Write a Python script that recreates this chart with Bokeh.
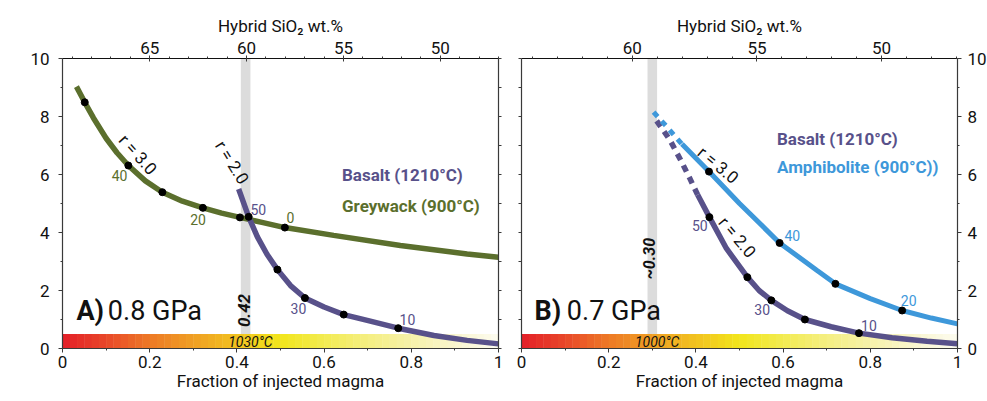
import numpy as np
from bokeh.plotting import figure
from bokeh.layouts import row
from bokeh.models import Range1d, LinearAxis, FixedTicker, NumeralTickFormatter, Label
from bokeh.embed import file_html
from bokeh.resources import INLINE

FONT = "Roboto"
PURPLE = "#58518a"
GREEN = "#5b6f2d"
BLUE = "#3e98da"
AXC = "#3a3a3a"

# ---------------- axes ----------------
frac_ticks = [0, 0.2, 0.4, 0.6, 0.8, 1.0]
frac_minor = [0, 0.1, 0.2, 0.3, 0.4, 0.5, 0.6, 0.7, 0.8, 0.9, 1.0]
visc_ticks = [0, 2, 4, 6, 8, 10]
visc_minor = [0, 1, 2, 3, 4, 5, 6, 7, 8, 9, 10]
sio2_ticks_a = [65, 60, 55, 50]
sio2_ticks_b = [60, 55, 50]
sio2_minor = list(range(46, 71))
sio2_range_a = (69.5, 47.0)   # SiO2 at fraction 0 and 1
sio2_range_b = (64.45, 46.95)

# ---------------- panel A (0.8 GPa) ----------------
grey_a_f = [0.032, 0.051, 0.071, 0.10, 0.125, 0.151, 0.19, 0.229, 0.275, 0.322, 0.365, 0.407, 0.46, 0.51, 0.622, 0.775, 0.928, 1.0]
grey_a_v = [9.03, 8.49, 7.95, 7.25, 6.75, 6.31, 5.78, 5.39, 5.08, 4.85, 4.67, 4.52, 4.34, 4.17, 3.90, 3.55, 3.26, 3.15]
grey_a_dot_f = [0.051, 0.151, 0.229, 0.322, 0.407, 0.51]
grey_a_dot_v = [8.49, 6.31, 5.39, 4.85, 4.52, 4.17]

bas_a_f = [0.404, 0.427, 0.447, 0.469, 0.493, 0.523, 0.556, 0.60, 0.645, 0.699, 0.77, 0.852, 0.928, 1.0]
bas_a_v = [5.50, 4.54, 3.85, 3.25, 2.72, 2.17, 1.74, 1.43, 1.17, 0.97, 0.70, 0.45, 0.28, 0.16]
bas_a_dot_f = [0.427, 0.493, 0.556, 0.645, 0.77]
bas_a_dot_v = [4.54, 2.72, 1.74, 1.17, 0.70]

band_a = 0.42
temp_a = "1030°C"

# ---------------- panel B (0.7 GPa) ----------------
bas_b_dash_f = [0.31, 0.34, 0.365, 0.385, 0.404]
bas_b_dash_v = [7.85, 7.20, 6.50, 5.90, 5.30]
bas_b_f = [0.404, 0.431, 0.47, 0.518, 0.545, 0.573, 0.61, 0.65, 0.71, 0.774, 0.85, 0.93, 1.0]
bas_b_v = [5.30, 4.53, 3.45, 2.46, 2.00, 1.66, 1.30, 1.00, 0.75, 0.53, 0.37, 0.25, 0.16]
bas_b_dot_f = [0.431, 0.518, 0.573, 0.65, 0.774]
bas_b_dot_v = [4.53, 2.46, 1.66, 1.00, 0.53]

amph_b_dash_f = [0.303, 0.33, 0.368]
amph_b_dash_v = [8.15, 7.70, 7.05]
amph_b_f = [0.368, 0.43, 0.50, 0.592, 0.678, 0.72, 0.80, 0.873, 0.94, 1.0]
amph_b_v = [7.05, 6.10, 5.00, 3.64, 2.69, 2.23, 1.72, 1.31, 1.05, 0.85]
amph_b_dot_f = [0.43, 0.592, 0.72, 0.873]
amph_b_dot_v = [6.10, 3.64, 2.23, 1.31]

band_b = 0.30
temp_b = "1000°C"

# temperature gradient bar colour stops
grad_pos = [0.0, 0.1, 0.2, 0.3, 0.4, 0.5, 0.6, 0.7, 0.8, 0.9, 1.0]
grad_col = ["#e41f28", "#e9482a", "#ee7a26", "#f0a024", "#f2c320", "#f2e61c",
            "#f3ec52", "#f5ef82", "#f7f2aa", "#faf6cf", "#fdfcf0"]


def hex2rgb(h):
    return np.array([int(h[i:i + 2], 16) for i in (1, 3, 5)], dtype=float)


def gradient_colors(n):
    rgbs = np.array([hex2rgb(c) for c in grad_col])
    centers = (np.arange(n) + 0.5) / n
    out = []
    for c in centers:
        r = np.interp(c, grad_pos, rgbs[:, 0])
        g = np.interp(c, grad_pos, rgbs[:, 1])
        b = np.interp(c, grad_pos, rgbs[:, 2])
        out.append("#%02x%02x%02x" % (int(r), int(g), int(b)))
    return out


def style_axis(ax, minor_in=0):
    ax.axis_line_color = AXC
    ax.axis_line_width = 1.2
    ax.major_tick_line_color = AXC
    ax.minor_tick_line_color = AXC
    ax.major_tick_out = 4
    ax.major_tick_in = 0
    ax.minor_tick_out = 2
    ax.minor_tick_in = minor_in
    ax.major_label_text_font = FONT
    ax.major_label_text_font_size = "17px"
    ax.major_label_text_color = "#111111"
    ax.major_label_standoff = 3
    ax.axis_label_text_font = FONT
    ax.axis_label_text_font_size = "17px"
    ax.axis_label_text_font_style = "normal"
    ax.axis_label_text_color = "#111111"
    ax.axis_label_standoff = 2


def lab(p, x, y, text, size="14px", color="#111111", style="normal", angle=0, align="center", baseline="middle"):
    p.add_layout(Label(x=x, y=y, text=text, text_font=FONT, text_font_size=size,
                       text_color=color, text_font_style=style, angle=angle, angle_units="deg",
                       text_align=align, text_baseline=baseline))


def make_fig(left_border, right_border, sio2_range, sio2_ticks, yaxis_side):
    p = figure(frame_width=436, frame_height=290, x_range=Range1d(0, 1), y_range=Range1d(0, 10),
               output_backend="svg", toolbar_location=None,
               x_axis_location="below", y_axis_location="left",
               min_border_left=left_border, min_border_right=right_border,
               min_border_top=58, min_border_bottom=40)
    p.outline_line_color = None
    p.xgrid.visible = False
    p.ygrid.visible = False
    p.background_fill_color = "white"
    p.border_fill_color = "white"

    xa = p.xaxis[0]
    xa.ticker = FixedTicker(ticks=frac_ticks, minor_ticks=frac_minor)
    xa.formatter = NumeralTickFormatter(format="0.[0]")
    style_axis(xa)
    xa.axis_label = "Fraction of injected magma"
    xa.axis_label_standoff = 0

    # labelled / unlabelled vertical axes
    labelled = FixedTicker(ticks=visc_ticks, minor_ticks=visc_minor)
    unlabelled = FixedTicker(ticks=[], minor_ticks=visc_minor)
    ya = p.yaxis[0]
    ya.ticker = labelled if yaxis_side == "left" else unlabelled
    style_axis(ya)
    ya.major_label_standoff = 9
    ra = LinearAxis(ticker=labelled if yaxis_side == "right" else unlabelled)
    style_axis(ra)
    ra.major_label_standoff = 6
    p.add_layout(ra, "right")
    for ax in (ya, ra):
        if ax.ticker is unlabelled:
            ax.minor_tick_out = 3

    p.extra_x_ranges = {"sio2": Range1d(start=sio2_range[0], end=sio2_range[1])}
    ta = LinearAxis(x_range_name="sio2", ticker=FixedTicker(ticks=sio2_ticks, minor_ticks=sio2_minor))
    style_axis(ta)
    ta.axis_line_color = "#111111"
    ta.major_tick_in = 3
    ta.major_tick_out = 3
    ta.axis_label = "Hybrid SiO₂ wt.%"
    ta.axis_label_standoff = 3
    ta.major_label_standoff = 2
    p.add_layout(ta, "above")
    return p


def add_bar_and_band(p, band_center, temp_text, text_x):
    p.quad(left=[band_center - 0.011], right=[band_center + 0.011], bottom=[0], top=[10],
           fill_color="#dcdcdc", line_color=None)
    n = 60
    edges = np.linspace(0, 1, n + 1)
    p.quad(left=edges[:-1], right=edges[1:] + 0.001, bottom=0, top=0.5,
           fill_color=gradient_colors(n), line_color=None)
    lab(p, text_x, 0.24, temp_text, size="14px", style="italic")


# ================= Panel A =================
pA = make_fig(62, 12, sio2_range_a, sio2_ticks_a, "left")
add_bar_and_band(pA, band_a, temp_a, 0.431)
pA.line(grey_a_f, grey_a_v, line_color=GREEN, line_width=5.5)
pA.line(bas_a_f, bas_a_v, line_color=PURPLE, line_width=5.5)
pA.scatter(grey_a_dot_f, grey_a_dot_v, size=7, color="black")
pA.scatter(bas_a_dot_f, bas_a_dot_v, size=7, color="black")

lab(pA, -0.0975, 4.45, "Log bulk viscosity", size="17px", angle=90)
lab(pA, 0.173, 6.69, "r = 3.0", size="17px", angle=-48)
lab(pA, 0.389, 6.42, "r = 2.0", size="17px", angle=-58)
lab(pA, 0.131, 5.97, "40", color=GREEN, size="14px")
lab(pA, 0.311, 4.44, "20", color=GREEN, size="14px")
lab(pA, 0.523, 4.52, "0", color=GREEN, size="14px")
lab(pA, 0.449, 4.78, "50", color=PURPLE, size="14px")
lab(pA, 0.541, 1.37, "30", color=PURPLE, size="14px")
lab(pA, 0.791, 0.99, "10", color=PURPLE, size="14px")
lab(pA, 0.641, 5.97, "Basalt (1210°C)", size="17px", color=PURPLE, style="bold", align="left")
lab(pA, 0.641, 4.93, "Greywack (900°C)", size="17px", color=GREEN, style="bold", align="left")
lab(pA, 0.417, 1.31, "0.42", size="17px", style="bold italic", angle=90)
lab(pA, 0.032, 1.31, "A)", size="27px", style="bold", align="left")
lab(pA, 0.104, 1.31, "0.8 GPa", size="27px", align="left")

# ================= Panel B =================
pB = make_fig(11, 24, sio2_range_b, sio2_ticks_b, "right")
add_bar_and_band(pB, band_b, temp_b, 0.311)
pB.line(bas_b_dash_f, bas_b_dash_v, line_color=PURPLE, line_width=5.5, line_dash="7 6")
pB.line(bas_b_f, bas_b_v, line_color=PURPLE, line_width=5.5)
pB.line(amph_b_dash_f, amph_b_dash_v, line_color=BLUE, line_width=5, line_dash="6 6")
pB.line(amph_b_f, amph_b_v, line_color=BLUE, line_width=5)
pB.scatter(bas_b_dot_f, bas_b_dot_v, size=7, color="black")
pB.scatter(amph_b_dot_f, amph_b_dot_v, size=7, color="black")

lab(pB, 0.451, 6.33, "r = 3.0", size="17px", angle=-40)
lab(pB, 0.495, 3.84, "r = 2.0", size="17px", angle=-50)
lab(pB, 0.409, 4.24, "50", color=PURPLE, size="14px")
lab(pB, 0.552, 1.33, "30", color=PURPLE, size="14px")
lab(pB, 0.797, 0.79, "10", color=PURPLE, size="14px")
lab(pB, 0.621, 3.90, "40", color=BLUE, size="14px")
lab(pB, 0.888, 1.66, "20", color=BLUE, size="14px")
lab(pB, 0.586, 7.24, "Basalt (1210°C)", size="17px", color=PURPLE, style="bold", align="left")
lab(pB, 0.586, 6.25, "Amphibolite (900°C))", size="17px", color=BLUE, style="bold", align="left")
lab(pB, 0.294, 3.10, "~0.30", size="16px", style="bold italic", angle=90)
lab(pB, 0.030, 1.31, "B)", size="27px", style="bold", align="left")
lab(pB, 0.104, 1.31, "0.7 GPa", size="27px", align="left")

layout = row(pA, pB)
open("out.html", "w").write(file_html(layout, INLINE))
